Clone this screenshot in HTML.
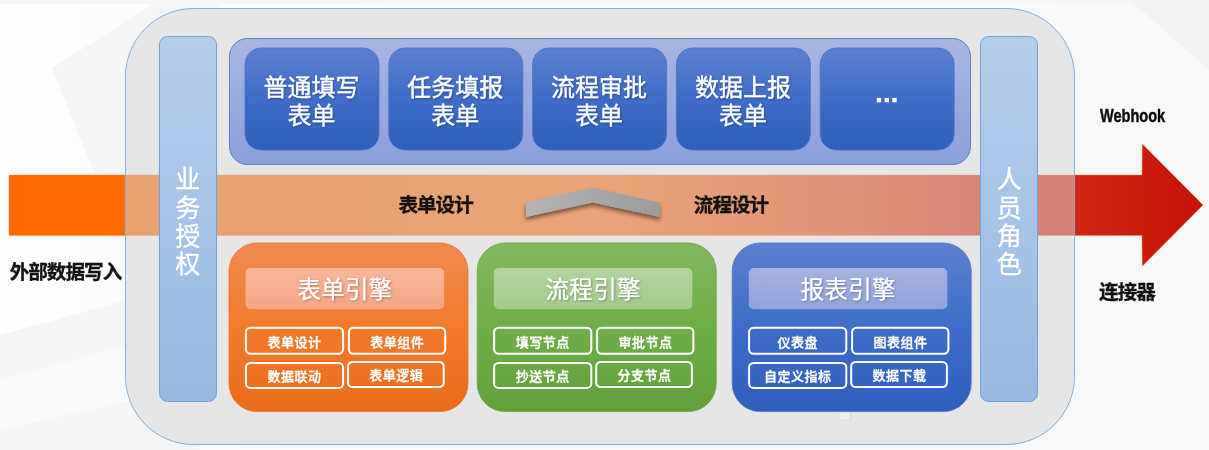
<!DOCTYPE html>
<html lang="zh-CN">
<head>
<meta charset="utf-8">
<title>表单引擎 / 流程引擎 / 报表引擎 架构图</title>
<style>
html,body{margin:0;padding:0;background:#fff;}
body{width:1209px;height:450px;overflow:hidden;position:relative;font-family:"Liberation Sans","Noto Sans CJK SC",sans-serif;}
#art{position:absolute;left:0;top:0;width:1209px;height:450px;display:block;will-change:transform;}
#art text{font-family:"Liberation Sans","Noto Sans CJK SC",sans-serif;}
#labels{position:absolute;left:0;top:0;width:1209px;height:450px;overflow:hidden;}
#labels span{position:absolute;white-space:nowrap;color:transparent;overflow:hidden;font-family:"Liberation Sans","Noto Sans CJK SC",sans-serif;}
</style>
</head>
<body>
<svg id="art" width="1209" height="450" viewBox="0 0 1209 450">
<defs>

<linearGradient id="bg" x1="0" y1="0" x2="1" y2="0"><stop offset="0" stop-color="#fefefe"/><stop offset="0.1" stop-color="#fcfcfc"/><stop offset="0.9" stop-color="#f8f8f8"/><stop offset="1" stop-color="#f8f8f8"/></linearGradient>
<linearGradient id="band" x1="9" y1="0" x2="1205" y2="0" gradientUnits="userSpaceOnUse">
<stop offset="0" stop-color="#ff6a00"/><stop offset="0.3" stop-color="#ff6e08"/><stop offset="0.49" stop-color="#ff7214"/><stop offset="0.66" stop-color="#f05614"/><stop offset="0.795" stop-color="#de3312"/><stop offset="0.91" stop-color="#cf2311"/><stop offset="1" stop-color="#c41208"/>
</linearGradient>
<linearGradient id="col" x1="0" y1="0" x2="0" y2="1">
<stop offset="0" stop-color="#b3cdea"/><stop offset="1" stop-color="#97bae4"/>
</linearGradient>
<linearGradient id="topc" x1="0" y1="0" x2="0" y2="1">
<stop offset="0" stop-color="#a9b6e2"/><stop offset="1" stop-color="#8a9fdb"/>
</linearGradient>
<linearGradient id="blue" x1="0" y1="0" x2="0" y2="1">
<stop offset="0" stop-color="#5b80cf"/><stop offset="0.5" stop-color="#3e6cc8"/><stop offset="1" stop-color="#2f5fbe"/>
</linearGradient>
<linearGradient id="org" x1="0" y1="0" x2="0" y2="1">
<stop offset="0" stop-color="#f08a50"/><stop offset="0.5" stop-color="#f47a2c"/><stop offset="1" stop-color="#e96c1a"/>
</linearGradient>
<linearGradient id="grn" x1="0" y1="0" x2="0" y2="1">
<stop offset="0" stop-color="#82b860"/><stop offset="0.5" stop-color="#6fae48"/><stop offset="1" stop-color="#62a03a"/>
</linearGradient>
<linearGradient id="orgT" x1="0" y1="0" x2="0" y2="1">
<stop offset="0" stop-color="#f7b79b"/><stop offset="1" stop-color="#f5a585"/>
</linearGradient>
<linearGradient id="grnT" x1="0" y1="0" x2="0" y2="1">
<stop offset="0" stop-color="#b3d49f"/><stop offset="1" stop-color="#a3cb8b"/>
</linearGradient>
<linearGradient id="blueT" x1="0" y1="0" x2="0" y2="1">
<stop offset="0" stop-color="#a6b3e0"/><stop offset="1" stop-color="#92a3da"/>
</linearGradient>
<linearGradient id="chev" x1="525" y1="0" x2="660" y2="0" gradientUnits="userSpaceOnUse">
<stop offset="0" stop-color="#b4b4b4"/><stop offset="0.5" stop-color="#a8a8a8"/><stop offset="1" stop-color="#9a9a9a"/>
</linearGradient>
<filter id="sh" x="-20%" y="-20%" width="140%" height="160%"><feGaussianBlur in="SourceAlpha" stdDeviation="2"/><feOffset dx="0" dy="2.5"/><feComponentTransfer><feFuncA type="linear" slope="0.5"/></feComponentTransfer><feMerge><feMergeNode/><feMergeNode in="SourceGraphic"/></feMerge></filter>
<filter id="tsh" x="-10%" y="-10%" width="120%" height="130%"><feGaussianBlur in="SourceAlpha" stdDeviation="0.8"/><feOffset dx="0.5" dy="1"/><feComponentTransfer><feFuncA type="linear" slope="0.3"/></feComponentTransfer><feMerge><feMergeNode/><feMergeNode in="SourceGraphic"/></feMerge></filter>

</defs>
<rect width="1209" height="450" fill="url(#bg)"/>
<polygon points="160,0 52,68 95,175 220,175 220,0" fill="#f5f5f5"/>
<rect width="1209" height="4" fill="#f6f6f6"/>
<polygon points="0,335 200,280 200,450 0,450" fill="#f5f5f5"/>
<polygon points="0,380 200,325 200,385 0,430" fill="#f9f9f9"/>
<polygon points="1130,0 1209,0 1209,70" fill="#f2f2f2"/>
<rect x="125.5" y="8.5" width="949" height="436" rx="68" fill="#fbfbfb"/>
<polygon points="9,175 1142,175 1142.3,144 1203,205 1142.3,266.2 1142,235.5 9,235.5" fill="url(#band)" stroke="#f08030" stroke-width="0.8" stroke-opacity="0.55" stroke-linejoin="miter"/>
<rect x="125.5" y="8.5" width="949" height="436" rx="68" fill="rgb(210,210,210)" fill-opacity="0.52" stroke="#7fb0e2" stroke-width="1"/>
<rect x="159.5" y="36.5" width="57" height="365" rx="8" fill="url(#col)" stroke="#6da4e0" stroke-width="1"/>
<rect x="980.5" y="36.5" width="57" height="365" rx="8" fill="url(#col)" stroke="#6da4e0" stroke-width="1"/>
<rect x="229.5" y="38.5" width="741" height="126" rx="18" fill="url(#topc)" stroke="#5a80d0" stroke-width="1"/>
<rect x="245" y="48" width="134" height="102" rx="16" fill="url(#blue)" stroke="#4a72c6" stroke-width="0.8"/>
<rect x="388.8" y="48" width="134" height="102" rx="16" fill="url(#blue)" stroke="#4a72c6" stroke-width="0.8"/>
<rect x="532.6" y="48" width="134" height="102" rx="16" fill="url(#blue)" stroke="#4a72c6" stroke-width="0.8"/>
<rect x="676.4" y="48" width="134" height="102" rx="16" fill="url(#blue)" stroke="#4a72c6" stroke-width="0.8"/>
<rect x="820.2" y="48" width="134" height="102" rx="16" fill="url(#blue)" stroke="#4a72c6" stroke-width="0.8"/>
<rect x="838.5" y="412.5" width="12" height="7.5" fill="#ededed" stroke="#dcdcdc" stroke-width="1"/>
<rect x="837" y="411" width="12.5" height="2" fill="#e8e8e8"/>
<polygon points="526,202.4 592.7,187.9 659.8,202.4 659.8,216.9 592.7,202.4 526,216.9" fill="url(#chev)" filter="url(#sh)"/>
<rect x="229" y="243" width="239" height="168.6" rx="28" fill="url(#org)" stroke="#e8752a" stroke-width="0.8"/>
<rect x="245.6" y="268" width="198.5" height="41.2" rx="5" fill="url(#orgT)"/>
<rect x="245.9" y="327.75" width="97.2" height="26.05" rx="4.5" fill="none" stroke="#fff" stroke-width="2"/>
<rect x="348.9" y="327.75" width="96.3" height="26.05" rx="4.5" fill="none" stroke="#fff" stroke-width="2"/>
<rect x="245.9" y="362.9" width="97.2" height="25" rx="4.5" fill="none" stroke="#fff" stroke-width="2"/>
<rect x="348" y="362" width="95.7" height="25" rx="4.5" fill="none" stroke="#fff" stroke-width="2"/>
<rect x="477.2" y="243" width="239" height="168.6" rx="28" fill="url(#grn)" stroke="#68a640" stroke-width="0.8"/>
<rect x="493.8" y="268" width="198.5" height="41.2" rx="5" fill="url(#grnT)"/>
<rect x="494.1" y="327.75" width="97.2" height="26.05" rx="4.5" fill="none" stroke="#fff" stroke-width="2"/>
<rect x="597.1" y="327.75" width="96.3" height="26.05" rx="4.5" fill="none" stroke="#fff" stroke-width="2"/>
<rect x="494.1" y="362.9" width="97.2" height="25" rx="4.5" fill="none" stroke="#fff" stroke-width="2"/>
<rect x="596.2" y="362" width="95.7" height="25" rx="4.5" fill="none" stroke="#fff" stroke-width="2"/>
<rect x="732.2" y="243" width="239" height="168.6" rx="28" fill="url(#blue)" stroke="#4a72c6" stroke-width="0.8"/>
<rect x="748.8" y="268" width="198.5" height="41.2" rx="5" fill="url(#blueT)"/>
<rect x="749.1" y="327.75" width="97.2" height="26.05" rx="4.5" fill="none" stroke="#fff" stroke-width="2"/>
<rect x="852.1" y="327.75" width="96.3" height="26.05" rx="4.5" fill="none" stroke="#fff" stroke-width="2"/>
<rect x="749.1" y="362.9" width="97.2" height="25" rx="4.5" fill="none" stroke="#fff" stroke-width="2"/>
<rect x="851.2" y="362" width="95.7" height="25" rx="4.5" fill="none" stroke="#fff" stroke-width="2"/>
<rect x="876.8" y="97.9" width="4.4" height="4.4" fill="#fff"/>
<rect x="884.55" y="97.9" width="4.4" height="4.4" fill="#fff"/>
<rect x="892.3" y="97.9" width="4.4" height="4.4" fill="#fff"/>
<g fill="#fff" filter="url(#tsh)" stroke="#fff" stroke-width="0.3" stroke-linejoin="round" font-size="24">
<text x="263.5" y="95.82">普通填写</text>
<text x="287.5" y="124.42">表单</text>
<text x="407.3" y="95.82">任务填报</text>
<text x="431.3" y="124.42">表单</text>
<text x="551.1" y="95.82">流程审批</text>
<text x="575.1" y="124.42">表单</text>
<text x="694.9" y="95.82">数据上报</text>
<text x="718.9" y="124.42">表单</text>
</g>
<g fill="#fff" stroke="#fff" stroke-width="0.3" stroke-linejoin="round" font-size="25">
<text x="175.3" y="188.3">业</text>
<text x="175.3" y="216.6">务</text>
<text x="175.3" y="244.9">授</text>
<text x="175.3" y="273.2">权</text>
<text x="996.7" y="188.3">人</text>
<text x="996.7" y="216.6">员</text>
<text x="996.7" y="244.9">角</text>
<text x="996.7" y="273.2">色</text>
</g>
<g fill="#111" stroke="#111" stroke-width="0.3" stroke-linejoin="round" font-size="19.6" font-weight="700" letter-spacing="-1">
<text x="398.4" y="212.05">表单设计</text>
<text x="693.8" y="212.05">流程设计</text>
<text x="9.7" y="278.65">外部数据写入</text>
<text x="1099.1" y="298.95">连接器</text>
</g>
<text x="0" y="0" transform="translate(1099.9 121.7) scale(0.81 1)" font-family="Liberation Sans, sans-serif" font-weight="700" font-size="18" stroke="#0a0a0a" stroke-width="0.4" fill="#0a0a0a">Webhook</text>
<g fill="#fff" filter="url(#tsh)" stroke="#fff" stroke-width="0.2" stroke-linejoin="round" font-size="23.5" letter-spacing="0.3">
<text x="297.35" y="298.33">表单引擎</text>
<text x="545.55" y="298.33">流程引擎</text>
<text x="800.55" y="298.33">报表引擎</text>
</g>
<g fill="#fff" stroke="#fff" stroke-width="0.35" stroke-linejoin="round" font-size="13" font-weight="500" letter-spacing="0.5">
<text x="267.45" y="347.24">表单设计</text>
<text x="370.25" y="347.24">表单组件</text>
<text x="267.45" y="380.54">数据联动</text>
<text x="369.25" y="379.94">表单逻辑</text>
<text x="515.65" y="347.24">填写节点</text>
<text x="618.45" y="347.24">审批节点</text>
<text x="515.65" y="380.54">抄送节点</text>
<text x="617.45" y="379.94">分支节点</text>
<text x="777.4" y="347.24">仪表盘</text>
<text x="873.45" y="347.24">图表组件</text>
<text x="763.9" y="380.54">自定义指标</text>
<text x="872.45" y="379.94">数据下载</text>
</g>
</svg>
<div id="labels">
<span style="left:263.5px;top:72.3px;width:98.0px;font-size:24px;line-height:28.8px;letter-spacing:0px;font-weight:400">普通填写</span>
<span style="left:287.5px;top:100.9px;width:50.0px;font-size:24px;line-height:28.8px;letter-spacing:0px;font-weight:400">表单</span>
<span style="left:407.3px;top:72.3px;width:98.0px;font-size:24px;line-height:28.8px;letter-spacing:0px;font-weight:400">任务填报</span>
<span style="left:431.3px;top:100.9px;width:50.0px;font-size:24px;line-height:28.8px;letter-spacing:0px;font-weight:400">表单</span>
<span style="left:551.1px;top:72.3px;width:98.0px;font-size:24px;line-height:28.8px;letter-spacing:0px;font-weight:400">流程审批</span>
<span style="left:575.1px;top:100.9px;width:50.0px;font-size:24px;line-height:28.8px;letter-spacing:0px;font-weight:400">表单</span>
<span style="left:694.9px;top:72.3px;width:98.0px;font-size:24px;line-height:28.8px;letter-spacing:0px;font-weight:400">数据上报</span>
<span style="left:718.9px;top:100.9px;width:50.0px;font-size:24px;line-height:28.8px;letter-spacing:0px;font-weight:400">表单</span>
<span style="left:398.4px;top:192.8px;width:77.4px;font-size:19.6px;line-height:23.5px;letter-spacing:-1px;font-weight:700">表单设计</span>
<span style="left:693.8px;top:192.8px;width:77.4px;font-size:19.6px;line-height:23.5px;letter-spacing:-1px;font-weight:700">流程设计</span>
<span style="left:9.7px;top:259.4px;width:114.6px;font-size:19.6px;line-height:23.5px;letter-spacing:-1px;font-weight:700">外部数据写入</span>
<span style="left:1099.1px;top:279.7px;width:58.8px;font-size:19.6px;line-height:23.5px;letter-spacing:-1px;font-weight:700">连接器</span>
<span style="left:297.4px;top:275.3px;width:96.9px;font-size:23.5px;line-height:28.2px;letter-spacing:0.3px;font-weight:400">表单引擎</span>
<span style="left:267.4px;top:334.5px;width:55.5px;font-size:13px;line-height:15.6px;letter-spacing:0.5px;font-weight:400">表单设计</span>
<span style="left:370.2px;top:334.5px;width:55.5px;font-size:13px;line-height:15.6px;letter-spacing:0.5px;font-weight:400">表单组件</span>
<span style="left:267.4px;top:367.8px;width:55.5px;font-size:13px;line-height:15.6px;letter-spacing:0.5px;font-weight:400">数据联动</span>
<span style="left:369.2px;top:367.2px;width:55.5px;font-size:13px;line-height:15.6px;letter-spacing:0.5px;font-weight:400">表单逻辑</span>
<span style="left:545.5px;top:275.3px;width:96.9px;font-size:23.5px;line-height:28.2px;letter-spacing:0.3px;font-weight:400">流程引擎</span>
<span style="left:515.6px;top:334.5px;width:55.5px;font-size:13px;line-height:15.6px;letter-spacing:0.5px;font-weight:400">填写节点</span>
<span style="left:618.5px;top:334.5px;width:55.5px;font-size:13px;line-height:15.6px;letter-spacing:0.5px;font-weight:400">审批节点</span>
<span style="left:515.6px;top:367.8px;width:55.5px;font-size:13px;line-height:15.6px;letter-spacing:0.5px;font-weight:400">抄送节点</span>
<span style="left:617.5px;top:367.2px;width:55.5px;font-size:13px;line-height:15.6px;letter-spacing:0.5px;font-weight:400">分支节点</span>
<span style="left:800.5px;top:275.3px;width:96.9px;font-size:23.5px;line-height:28.2px;letter-spacing:0.3px;font-weight:400">报表引擎</span>
<span style="left:777.4px;top:334.5px;width:42.0px;font-size:13px;line-height:15.6px;letter-spacing:0.5px;font-weight:400">仪表盘</span>
<span style="left:873.5px;top:334.5px;width:55.5px;font-size:13px;line-height:15.6px;letter-spacing:0.5px;font-weight:400">图表组件</span>
<span style="left:763.9px;top:367.8px;width:69.0px;font-size:13px;line-height:15.6px;letter-spacing:0.5px;font-weight:400">自定义指标</span>
<span style="left:872.5px;top:367.2px;width:55.5px;font-size:13px;line-height:15.6px;letter-spacing:0.5px;font-weight:400">数据下载</span>
<span style="left:175.3px;top:164.7px;width:26.0px;font-size:25px;line-height:28.3px;white-space:normal;word-break:break-all">业务授权</span>
<span style="left:996.7px;top:164.7px;width:26.0px;font-size:25px;line-height:28.3px;white-space:normal;word-break:break-all">人员角色</span>
</div>
</body>
</html>
